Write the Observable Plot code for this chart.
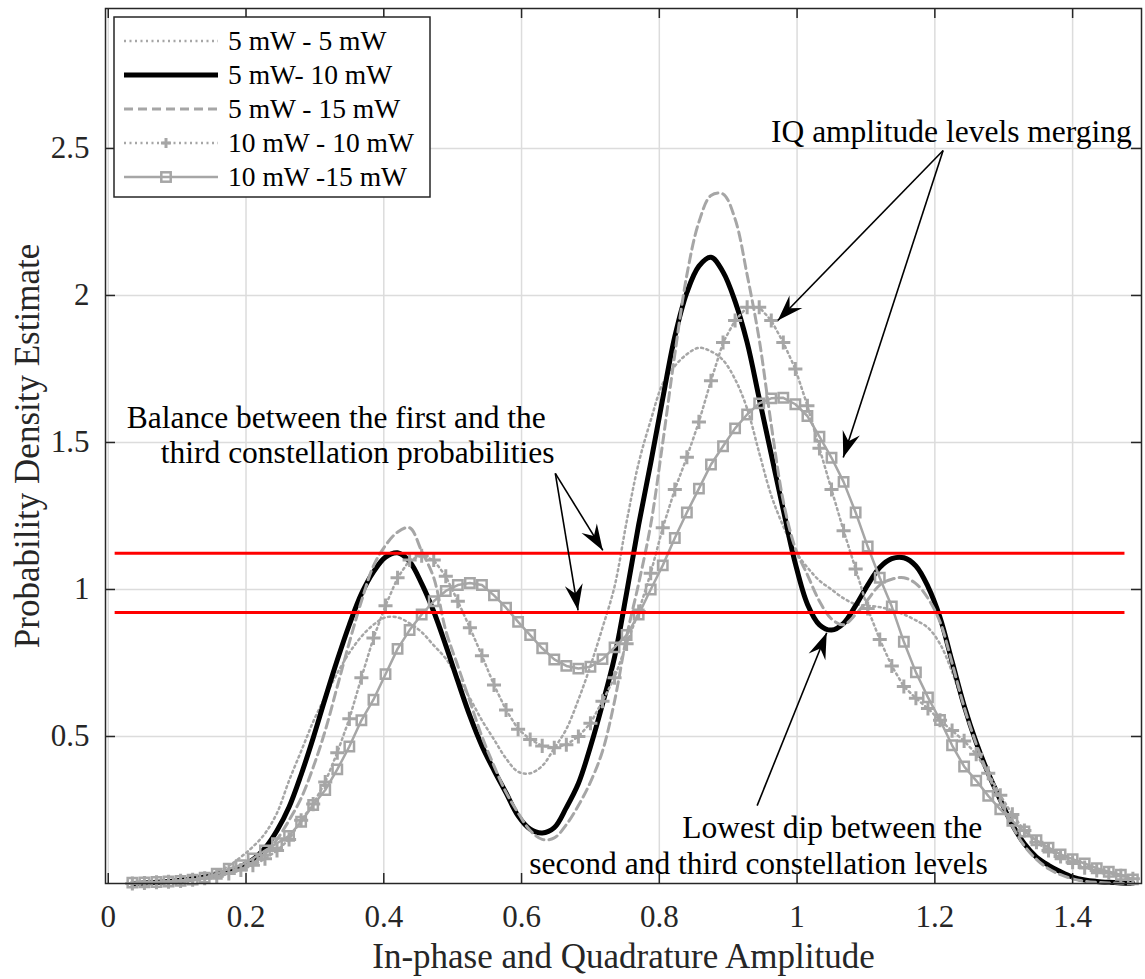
<!DOCTYPE html>
<html><head><meta charset="utf-8">
<script src="https://cdn.jsdelivr.net/npm/d3@7"></script>
<script src="https://cdn.jsdelivr.net/npm/@observablehq/plot@0.6"></script>
<style>
body{margin:0;background:#fff;}
#wrap{position:relative;width:1145px;height:979px;}
#legend{position:absolute;left:113px;top:16px;}
</style></head><body><div id="wrap"></div>
<script>
// ---- data ----
const xs = [
0.035,0.0525,0.07,0.0875,0.105,0.1225,0.14,0.1575,0.175,0.1925,
0.21,0.2275,0.245,0.2625,0.28,0.2975,0.315,0.3325,0.35,0.3675,
0.385,0.4025,0.42,0.4375,0.455,0.4725,0.49,0.5075,0.525,0.5425,
0.56,0.5775,0.595,0.6125,0.63,0.6475,0.665,0.6825,0.7,0.7175,
0.735,0.7525,0.77,0.7875,0.805,0.8225,0.84,0.8575,0.875,0.8925,
0.91,0.9275,0.945,0.9625,0.98,0.9975,1.015,1.0325,1.05,1.0675,
1.085,1.1025,1.12,1.1375,1.155,1.1725,1.19,1.2075,1.225,1.2425,
1.26,1.2775,1.295,1.3125,1.33,1.3475,1.365,1.3825,1.4,1.4175,
1.435,1.4525,1.47,1.4875];

const s5_5 = [
0.001,0.002,0.004,0.007,0.011,0.017,0.026,0.040,0.060,0.090,
0.125,0.170,0.240,0.350,0.450,0.550,0.635,0.715,0.785,0.840,
0.880,0.905,0.905,0.885,0.855,0.810,0.765,0.700,0.630,0.555,
0.490,0.425,0.380,0.375,0.400,0.460,0.525,0.625,0.740,0.870,
1.010,1.230,1.430,1.575,1.700,1.760,1.800,1.822,1.810,1.780,
1.715,1.615,1.465,1.320,1.215,1.130,1.075,1.030,1.000,0.970,
0.950,0.945,0.940,0.930,0.915,0.895,0.870,0.815,0.720,0.600,
0.480,0.385,0.290,0.200,0.135,0.090,0.058,0.036,0.020,0.011,
0.006,0.003,0.002,0.001];

const s5_10 = [
0.000,0.002,0.004,0.007,0.011,0.016,0.022,0.030,0.042,0.058,
0.082,0.120,0.180,0.260,0.370,0.495,0.630,0.760,0.880,0.985,
1.060,1.110,1.125,1.095,1.020,0.925,0.810,0.688,0.570,0.468,
0.385,0.308,0.230,0.185,0.172,0.190,0.258,0.340,0.465,0.610,
0.770,0.988,1.220,1.430,1.650,1.860,2.010,2.100,2.130,2.080,
1.980,1.840,1.650,1.460,1.270,1.088,0.950,0.880,0.862,0.885,
0.945,1.015,1.075,1.105,1.108,1.080,1.010,0.905,0.755,0.605,
0.480,0.375,0.285,0.200,0.135,0.090,0.062,0.040,0.022,0.012,
0.007,0.004,0.002,0.001];

const s5_15 = [
0.000,0.002,0.003,0.005,0.008,0.012,0.017,0.024,0.034,0.048,
0.068,0.100,0.150,0.215,0.290,0.395,0.520,0.670,0.820,0.960,
1.080,1.150,1.195,1.210,1.130,1.040,0.860,0.740,0.620,0.500,
0.400,0.310,0.240,0.180,0.150,0.155,0.200,0.265,0.345,0.450,
0.620,0.840,1.020,1.220,1.500,1.800,2.070,2.250,2.340,2.345,
2.260,2.070,1.850,1.560,1.300,1.140,1.050,0.960,0.900,0.880,
0.915,0.965,1.015,1.035,1.040,1.020,0.970,0.890,0.750,0.600,
0.475,0.370,0.280,0.195,0.128,0.082,0.050,0.030,0.016,0.008,
0.004,0.002,0.001,0.000];

const s10_10 = [
0.000,0.002,0.004,0.006,0.009,0.013,0.018,0.025,0.034,0.046,
0.062,0.084,0.112,0.150,0.215,0.270,0.345,0.445,0.560,0.700,
0.835,0.945,1.040,1.100,1.115,1.100,1.045,0.960,0.870,0.775,
0.675,0.590,0.525,0.490,0.468,0.462,0.472,0.500,0.545,0.620,
0.700,0.815,0.925,1.055,1.210,1.340,1.450,1.570,1.710,1.840,
1.915,1.960,1.960,1.915,1.840,1.750,1.625,1.480,1.340,1.200,
1.070,0.935,0.830,0.740,0.670,0.630,0.595,0.555,0.520,0.485,
0.440,0.375,0.300,0.235,0.180,0.140,0.112,0.092,0.072,0.054,
0.044,0.036,0.026,0.016];

const s10_15 = [
0.003,0.004,0.005,0.007,0.009,0.013,0.020,0.033,0.050,0.062,
0.085,0.112,0.137,0.162,0.210,0.267,0.318,0.388,0.466,0.555,
0.625,0.712,0.798,0.862,0.915,0.960,0.995,1.015,1.022,1.015,
0.980,0.938,0.890,0.845,0.800,0.762,0.740,0.731,0.737,0.763,
0.803,0.845,0.915,1.000,1.082,1.175,1.262,1.343,1.425,1.487,
1.548,1.595,1.633,1.650,1.652,1.630,1.590,1.520,1.448,1.366,
1.262,1.146,1.040,0.942,0.822,0.718,0.633,0.556,0.470,0.398,
0.350,0.298,0.252,0.213,0.177,0.147,0.122,0.099,0.083,0.068,
0.052,0.040,0.030,0.014];

const seriesNames = ["5 mW - 5 mW","5 mW- 10 mW","5 mW - 15 mW","10 mW - 10 mW","10 mW -15 mW"];
const xTicks = [0,0.2,0.4,0.6,0.8,1,1.2,1.4];
const yTicks = [0.5,1,1.5,2,2.5];
const redLevels = [1.123, 0.922];
const redSpan = [0.01, 1.476];

const noteTexts = ["IQ amplitude levels merging","Balance between the first and the","third constellation probabilities","Lowest dip between the","second and third constellation levels"];
const noteX = [1.224, 0.331, 0.362, 1.051, 0.944];
const noteY = [2.556, 1.582, 1.463, 0.19, 0.068];

const arrowX1 = [1.212, 1.212, 0.649, 0.649, 0.942];
const arrowY1 = [2.493, 2.493, 1.395, 1.395, 0.265];
const arrowX2 = [0.972, 1.067, 0.718, 0.682, 1.043];
const arrowY2 = [1.915, 1.449, 1.133, 0.929, 0.853];

const xLabel = "In-phase and Quadrature Amplitude";
const yLabel = "Probability Density Estimate";

// ---- layout ----
const W = 1145, H = 979;
const M = {left:105, right:4, top:8, bottom:96};
const xDomain = [-0.004, 1.5];
const yDomain = [0, 2.976];
const plotW = W - M.left - M.right, plotH = H - M.top - M.bottom;
const kx = plotW / (xDomain[1]-xDomain[0]);
const ky = plotH / (yDomain[1]-yDomain[0]);
const gray = "#a6a6a6";
const axisColor = "#262626";
const serif = "'Liberation Serif', 'Times New Roman', serif";

const rows = xs.map((x,i)=>({x, a:s5_5[i], b:s5_10[i], c:s5_15[i], d:s10_10[i], e:s10_15[i]}));
const notes = noteTexts.map((t,i)=>({text:t, x:noteX[i], y:noteY[i]}));
const arrows = arrowX1.map((_,i)=>({x1:arrowX1[i], y1:arrowY1[i], x2:arrowX2[i], y2:arrowY2[i]}));

function headSymbol(d){
  const dx = (d.x2-d.x1)*kx, dy = -(d.y2-d.y1)*ky;
  const len = Math.hypot(dx,dy), ux = dx/len, uy = dy/len;
  const px = -uy, py = ux;
  const L = 26, Wd = 9, N = 17;
  const pts = [[0,0],[-ux*L+px*Wd,-uy*L+py*Wd],[-ux*N,-uy*N],[-ux*L-px*Wd,-uy*L-py*Wd]];
  return {draw(ctx){ctx.moveTo(pts[0][0],pts[0][1]); for(let k=1;k<pts.length;k++) ctx.lineTo(pts[k][0],pts[k][1]); ctx.closePath();}};
}

const marks = [
  Plot.ruleX(xTicks, {stroke:"#dcdcdc", strokeWidth:1.5}),
  Plot.ruleY(yTicks, {stroke:"#dcdcdc", strokeWidth:1.5}),
  Plot.line(rows, {x:"x", y:"a", stroke:gray, strokeWidth:2.5, strokeDasharray:"2,3.5", curve:"catmull-rom"}),
  Plot.line(rows, {x:"x", y:"b", stroke:"#000", strokeWidth:5, curve:"catmull-rom"}),
  Plot.line(rows, {x:"x", y:"c", stroke:gray, strokeWidth:3, strokeDasharray:"9,5", curve:"catmull-rom"}),
  Plot.line(rows, {x:"x", y:"d", stroke:gray, strokeWidth:2.5, strokeDasharray:"2,3.5"}),
  Plot.dot(rows, {x:"x", y:"d", symbol:"plus", r:4.6, stroke:gray, strokeWidth:3, fill:"none"}),
  Plot.line(rows, {x:"x", y:"e", stroke:gray, strokeWidth:2.5}),
  Plot.dot(rows, {x:"x", y:"e", symbol:"square", r:5.3, stroke:gray, strokeWidth:2.5, fill:"none"}),
  Plot.ruleY(redLevels, {x1:redSpan[0], x2:redSpan[1], stroke:"#ff0000", strokeWidth:3}),
  Plot.link(arrows, {x1:"x1", y1:"y1", x2:"x2", y2:"y2", stroke:"#000", strokeWidth:1.6}),
  ...arrows.map(d => Plot.dot([d], {x:"x2", y:"y2", symbol:headSymbol(d), r:5, fill:"#000", stroke:"none"})),
  Plot.text(notes, {x:"x", y:"y", text:"text", fontSize:31.5, fill:"#000"}),
  // inward ticks on all four sides
  Plot.ruleX(xTicks, {stroke:axisColor, strokeWidth:1.5, insetTop:plotH-10}),
  Plot.ruleX(xTicks, {stroke:axisColor, strokeWidth:1.5, insetBottom:plotH-10}),
  Plot.ruleY(yTicks, {stroke:axisColor, strokeWidth:1.5, insetRight:plotW-10}),
  Plot.ruleY(yTicks, {stroke:axisColor, strokeWidth:1.5, insetLeft:plotW-10}),
  Plot.frame({stroke:axisColor, strokeWidth:1.5}),
  Plot.text([xLabel], {text:d=>d, frameAnchor:"bottom", textAnchor:"middle", lineAnchor:"middle", dy:73, fontSize:35, fill:axisColor}),
  Plot.text([yLabel], {text:d=>d, frameAnchor:"left", textAnchor:"middle", lineAnchor:"middle", rotate:-90, dx:-78, fontSize:35, fill:axisColor})
];

const chart = Plot.plot({
  width: W, height: H,
  marginLeft: M.left, marginRight: M.right, marginTop: M.top, marginBottom: M.bottom,
  style: {fontFamily: serif, fontSize: "31px", color: axisColor, background: "#fff"},
  x: {domain: xDomain, ticks: xTicks, tickFormat: d => String(d), tickSize: 0, tickPadding: 21, label: null},
  y: {domain: yDomain, ticks: yTicks, tickFormat: d => String(d), tickSize: 0, tickPadding: 16, label: null},
  marks
});
document.getElementById("wrap").appendChild(chart);

// ---- legend (inside the axes, top-left) ----
const legendStyles = [
  {stroke:gray, width:2.5, dash:"2,3.5", marker:null},
  {stroke:"#000", width:5, dash:null, marker:null},
  {stroke:gray, width:3, dash:"9,5", marker:null},
  {stroke:gray, width:2.5, dash:"2,3.5", marker:"plus"},
  {stroke:gray, width:2.5, dash:null, marker:"square"}
];
const leg = d3.create("svg").attr("id","legend").attr("width",319).attr("height",183);
leg.append("rect").attr("x",1).attr("y",1).attr("width",316).attr("height",180)
  .attr("fill","#fff").attr("stroke",axisColor).attr("stroke-width",1.5);
seriesNames.forEach((name,i)=>{
  const st = legendStyles[i], y = 25 + 34*i;
  leg.append("line").attr("x1",11).attr("x2",105).attr("y1",y).attr("y2",y)
    .attr("stroke",st.stroke).attr("stroke-width",st.width).attr("stroke-dasharray",st.dash);
  if (st.marker === "plus") {
    leg.append("path").attr("d",`M53,${y-5}V${y+5}M48,${y}H58`).attr("stroke",st.stroke).attr("stroke-width",3);
  } else if (st.marker === "square") {
    leg.append("rect").attr("x",53-4.7).attr("y",y-4.7).attr("width",9.4).attr("height",9.4)
      .attr("fill","none").attr("stroke",st.stroke).attr("stroke-width",2.5);
  }
  leg.append("text").attr("x",115).attr("y",y).attr("dy","0.34em")
    .attr("font-family",serif).attr("font-size","27.5px").attr("fill","#000").text(name);
});
document.getElementById("wrap").appendChild(leg.node());
</script></body></html>
